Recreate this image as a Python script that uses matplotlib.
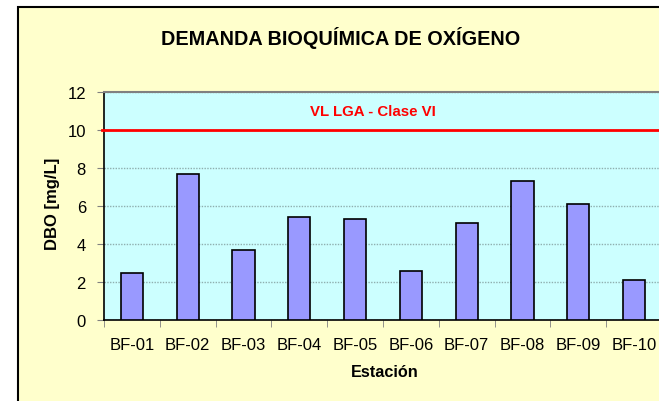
import matplotlib
matplotlib.use("Agg")
import matplotlib.pyplot as plt
from matplotlib.patches import Rectangle
import numpy as np

categories = ["BF-01", "BF-02", "BF-03", "BF-04", "BF-05",
              "BF-06", "BF-07", "BF-08", "BF-09", "BF-10"]
dbo_values = [2.5, 7.7, 3.7, 5.4, 5.3, 2.6, 5.1, 7.3, 6.1, 2.1]
limit_value = 10
limit_label = "VL LGA - Clase VI"
y_ticks = [0, 2, 4, 6, 8, 10, 12]

plt.rcParams['font.family'] = ['Liberation Sans', 'DejaVu Sans']

W, H = 659, 402
fig = plt.figure(figsize=(W / 100, H / 100), dpi=100)
fig.patch.set_facecolor("white")

# outer chart area frame
frame = Rectangle((18 / W, -0.1), 1.2, (1 - 8 / H) + 0.1,
                  transform=fig.transFigure, facecolor="#FFFFCC",
                  edgecolor="black", lw=1.5, zorder=-10)
fig.patches.append(frame)

ax = fig.add_axes([104 / W, 1 - 321 / H, (662 - 104) / W, 228 / H])
ax.set_zorder(5)
ax.set_facecolor("#CCFFFF")

x = np.arange(len(categories))
ax.bar(x, dbo_values, width=0.4, color="#9999FF", edgecolor="black",
       linewidth=1.2, zorder=3)

ax.axhline(limit_value, color="#FF0000", lw=2, zorder=4, clip_on=False,
           xmin=-0.004)

ax.set_xlim(-0.5, len(categories) - 0.5)
ax.set_ylim(0, 12)
ax.set_yticks(y_ticks)
ax.yaxis.grid(True, color="#8FAFAF", linestyle=(0, (1, 1)), lw=1, zorder=1)
ax.set_axisbelow(True)

ax.set_xticks(x)
ax.set_xticklabels(categories, fontsize=12)
ax.set_xticks(np.arange(len(categories) + 1) - 0.5, minor=True)
ax.tick_params(axis="x", which="major", length=0, pad=12)
ax.tick_params(axis="x", which="minor", length=5, color="#808080", direction="out")
ax.tick_params(axis="y", length=5, color="#808080", labelsize=12, pad=8)

for s in ["left", "bottom"]:
    ax.spines[s].set_color("black")
    ax.spines[s].set_linewidth(1.2)
ax.spines["top"].set_color("#808080")
ax.spines["top"].set_linewidth(1.5)
ax.spines["right"].set_visible(False)

ax.text(4.32, 11.0, limit_label, color="#FF0000", fontsize=10.8,
        fontweight="bold", ha="center", va="center")

fig.text(341 / W, 1 - 38 / H, "DEMANDA BIOQUÍMICA DE OXÍGENO",
         fontsize=14.3, fontweight="bold", ha="center", va="center")
fig.text(53 / W, 1 - 204 / H, "DBO [mg/L]", fontsize=12, fontweight="bold",
         rotation=90, ha="center", va="center")
fig.text(385 / W, 1 - 373 / H, "Estación", fontsize=11.7, fontweight="bold",
         ha="center", va="center")

fig.savefig("out.png", dpi=100)
